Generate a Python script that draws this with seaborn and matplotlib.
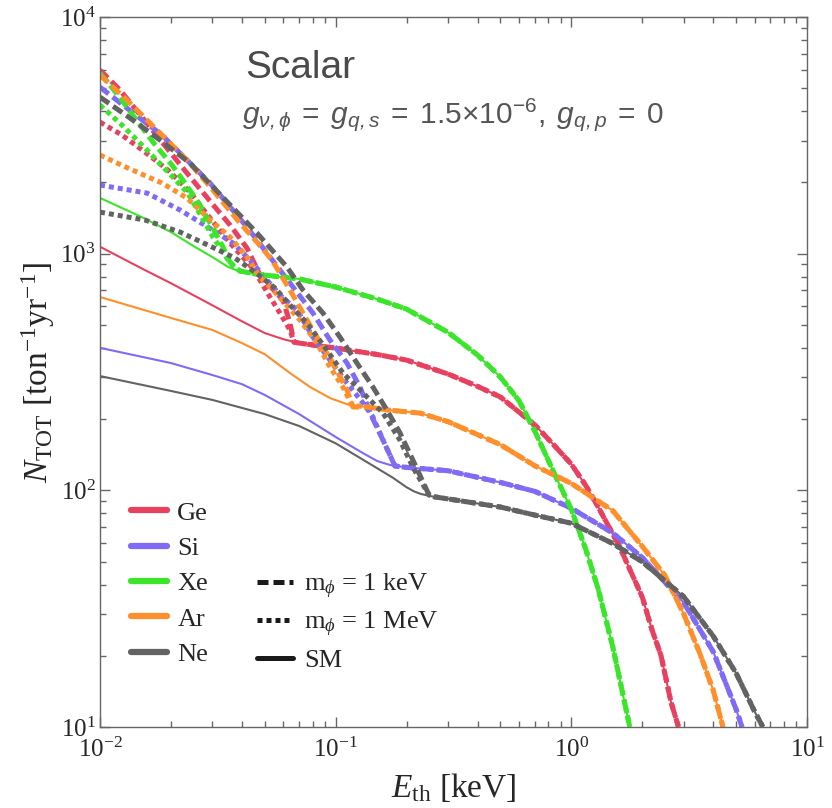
import numpy as np
import pandas as pd
import seaborn as sns
import matplotlib.pyplot as plt
from matplotlib.lines import Line2D
from matplotlib.ticker import LogLocator, NullFormatter

# SM curves (thin solid)
ge_sm_E = [0.01, 0.015, 0.02, 0.03, 0.04, 0.05, 0.06, 0.07, 0.085, 0.1, 0.15, 0.2, 0.3, 0.4, 0.5, 0.7, 0.85, 1.0, 1.15, 1.3, 1.6, 2.0, 2.2, 2.4, 2.65, 2.85]
ge_sm_N = [1070, 867, 750, 605, 518, 462, 435, 419, 408, 399, 375, 355, 310, 275, 248, 189, 154, 129, 105, 85, 58, 35.4, 25.7, 20.1, 12.7, 10]
si_sm_E = [0.01, 0.02, 0.03, 0.04, 0.05, 0.07, 0.1, 0.13, 0.15, 0.17, 0.2, 0.3, 0.5, 0.7, 1.0, 1.5, 2.0, 3.0, 4.0, 5.0, 5.3]
si_sm_N = [400, 345, 307, 281, 253, 210, 168, 144, 133, 128, 125, 121, 108, 99, 84, 66, 52, 33.5, 20.8, 11.9, 10]
xe_sm_E = [0.01, 0.015, 0.02, 0.025, 0.03, 0.035, 0.0375, 0.04, 0.045, 0.05, 0.07, 0.1, 0.15, 0.2, 0.3, 0.4, 0.5, 0.6, 0.7, 0.85, 1.0, 1.15, 1.3, 1.5, 1.77]
xe_sm_N = [1720, 1429, 1234, 1075, 967, 878, 855, 840, 824, 812, 782, 723, 643, 583, 465, 373, 301, 239, 178, 117, 83, 56.5, 38.3, 21.8, 10]
ar_sm_E = [0.01, 0.02, 0.03, 0.04, 0.05, 0.064, 0.078, 0.095, 0.115, 0.136, 0.17, 0.228, 0.3, 0.5, 0.7, 1.0, 1.5, 2.0, 2.5, 3.0, 3.5, 4.0, 4.4]
ar_sm_N = [656, 535, 476, 419, 376, 313, 273, 245, 229, 225, 218, 212, 195, 156, 127, 107, 82, 58, 43.5, 30, 20.6, 14.3, 10]
ne_sm_E = [0.01, 0.02, 0.03, 0.04, 0.05, 0.07, 0.1, 0.15, 0.175, 0.2, 0.215, 0.23, 0.26, 0.3, 0.5, 0.7, 1.0, 1.5, 2.0, 3.0, 4.0, 5.0, 6.0, 6.5]
ne_sm_N = [304, 263, 241, 223, 210, 187, 158, 124, 113, 103, 99, 96.5, 94, 92, 85, 78.6, 72.6, 59.6, 49.9, 35.5, 24.2, 16.9, 11.6, 10]

# m_phi = 1 keV (dashed), low-energy part until it joins SM
ge_1kev_E = [0.01, 0.01216, 0.0163, 0.02339, 0.02929, 0.03563, 0.04205, 0.04773, 0.05975, 0.06399, 0.06656]
ge_1kev_N = [5967, 4912, 3427, 2190, 1668, 1321, 1056, 812, 637, 509, 423]
si_1kev_E = [0.01, 0.01367, 0.01832, 0.02929, 0.04205, 0.0511, 0.06399, 0.0801, 0.09458, 0.1117, 0.1268, 0.1426, 0.1588, 0.1785]
si_1kev_N = [5055, 3965, 3170, 1988, 1295, 1006, 751, 561, 431.5, 345, 273, 204, 163, 126.7]
xe_1kev_E = [0.01, 0.01192, 0.01408, 0.01678, 0.02021, 0.02294, 0.02657, 0.03015, 0.03326, 0.03563, 0.03926]
xe_1kev_N = [5794, 4677, 3741, 2962, 2367, 1988, 1605, 1283, 1066, 921, 844]
ar_1kev_E = [0.01, 0.01277, 0.01552, 0.01887, 0.02294, 0.02844, 0.03926, 0.04637, 0.05366, 0.06399, 0.07266, 0.0833, 0.09739, 0.1117, 0.1184]
ar_1kev_N = [5682, 4543, 3741, 3080, 2535, 1988, 1347, 1119, 940, 702, 561, 444, 345, 265, 225]
ne_1kev_E = [0.01, 0.01341, 0.01797, 0.02409, 0.03135, 0.03814, 0.04637, 0.06213, 0.07266, 0.08836, 0.1043, 0.1231, 0.144, 0.1651, 0.1874, 0.2128, 0.249]
ne_1kev_N = [4587, 3741, 3020, 2414, 1838, 1498, 1222, 878, 702, 561, 444, 345, 273, 218, 175, 134, 95.5]

# m_phi = 1 MeV (dotted)
ge_1mev_E = [0.01, 0.0124, 0.01552, 0.01943, 0.02409, 0.02929, 0.03563, 0.04329, 0.04773, 0.05262, 0.05802, 0.06399, 0.06656]
ge_1mev_N = [3597, 3170, 2687, 2255, 1821, 1414, 1109, 895, 773, 656, 561, 476, 423]
si_1mev_E = [0.01, 0.01583, 0.02185, 0.02872, 0.03667, 0.04415, 0.0511, 0.05917, 0.06855, 0.0801, 0.09458, 0.1117, 0.1306, 0.144, 0.1588, 0.1785]
si_1mev_N = [1949, 1803, 1529, 1295, 1109, 921, 773, 656, 578, 444, 355, 284, 234, 204, 163, 126.7]
xe_1mev_E = [0.01, 0.0124, 0.01552, 0.01943, 0.02339, 0.02657, 0.03015, 0.03294, 0.03563, 0.03926]
xe_1mev_N = [4245, 3494, 2794, 2212, 1821, 1470, 1175, 1035, 912, 844]
ar_1mev_E = [0.01, 0.01315, 0.01832, 0.02339, 0.02844, 0.03563, 0.04205, 0.04773, 0.0542, 0.07056, 0.0833, 0.09458, 0.1074, 0.1173]
ar_1mev_N = [2610, 2299, 1988, 1718, 1428, 1175, 967, 796, 702, 524, 419, 332, 273, 229]
ne_1mev_E = [0.01, 0.01552, 0.02185, 0.02929, 0.0374, 0.04547, 0.05526, 0.06399, 0.07553, 0.09186, 0.1074, 0.1306, 0.1588, 0.1874, 0.2128, 0.249]
ne_1mev_N = [1498, 1387, 1234, 1077, 958, 836, 716, 607, 509, 391, 313, 258, 212, 163, 125, 95.5]

elements = ['Ge', 'Si', 'Xe', 'Ar', 'Ne']
colors = {'Ge': '#E8405F', 'Si': '#7F6BF5', 'Xe': '#3AE52A', 'Ar': '#FF8F2A', 'Ne': '#636363'}
sm = {'Ge': (ge_sm_E, ge_sm_N), 'Si': (si_sm_E, si_sm_N), 'Xe': (xe_sm_E, xe_sm_N),
      'Ar': (ar_sm_E, ar_sm_N), 'Ne': (ne_sm_E, ne_sm_N)}
kev = {'Ge': (ge_1kev_E, ge_1kev_N), 'Si': (si_1kev_E, si_1kev_N), 'Xe': (xe_1kev_E, xe_1kev_N),
       'Ar': (ar_1kev_E, ar_1kev_N), 'Ne': (ne_1kev_E, ne_1kev_N)}
mev = {'Ge': (ge_1mev_E, ge_1mev_N), 'Si': (si_1mev_E, si_1mev_N), 'Xe': (xe_1mev_E, xe_1mev_N),
       'Ar': (ar_1mev_E, ar_1mev_N), 'Ne': (ne_1mev_E, ne_1mev_N)}


def join_sm(low, ref):
    # above the knee the BSM curves lie on top of the SM curve
    e, n = list(low[0]), list(low[1])
    for ee, nn in zip(*ref):
        if ee > e[-1] * 1.02:
            e.append(ee)
            n.append(nn)
    return e, n


sns.set_style("ticks")
plt.rcParams['font.family'] = ['Liberation Serif', 'DejaVu Serif']
plt.rcParams['mathtext.fontset'] = 'custom'
plt.rcParams['mathtext.rm'] = 'Liberation Serif'
plt.rcParams['mathtext.it'] = 'Liberation Serif:italic'
plt.rcParams['mathtext.bf'] = 'Liberation Sans:italic'
plt.rcParams['mathtext.sf'] = 'Liberation Sans'

fig = plt.figure(figsize=(8.32, 8.08), dpi=100)
ax = fig.add_axes([100 / 832, 81 / 808, 707 / 832, 710 / 808])
ax.set_xscale('log')
ax.set_yscale('log')

dash_keV = (0, (2.2, 1.0))
dash_MeV = (0, (1.0, 0.8))

for el in elements:
    c = colors[el]
    e, n = sm[el]
    sns.lineplot(x=e, y=n, color=c, lw=1.5, ax=ax, sort=False, estimator=None)
for el in elements:
    c = colors[el]
    e, n = join_sm(mev[el], sm[el])
    sns.lineplot(x=e, y=n, color=c, lw=3.6, ax=ax, sort=False, estimator=None,
                 linestyle=dash_MeV, dash_capstyle='butt')
    e, n = join_sm(kev[el], sm[el])
    sns.lineplot(x=e, y=n, color=c, lw=3.6, ax=ax, sort=False, estimator=None,
                 linestyle=dash_keV, dash_capstyle='butt')

ax.set_xlim(1e-2, 1e1)
ax.set_ylim(1e1, 1e4)
ax.set_xticks([1e-2, 1e-1, 1e0, 1e1])
ax.set_xticklabels([r'$10^{-2}$', r'$10^{-1}$', r'$10^{0}$', r'$10^{1}$'])
ax.set_yticks([1e1, 1e2, 1e3, 1e4])
ax.set_yticklabels([r'$10^{1}$', r'$10^{2}$', r'$10^{3}$', r'$10^{4}$'])
for a in (ax.xaxis, ax.yaxis):
    a.set_minor_locator(LogLocator(base=10, subs=np.arange(2, 10)))
    a.set_minor_formatter(NullFormatter())
ax.tick_params(which='both', direction='in', top=True, right=True, color='#666666',
               labelsize=18, width=1.0)
ax.tick_params(which='major', length=7)
ax.tick_params(which='minor', length=4)
ax.tick_params(axis='x', pad=8)
ax.tick_params(axis='y', pad=3)
for s in ax.spines.values():
    s.set_color('#666666')
    s.set_linewidth(1.0)

ax.set_xlabel(r'$E_{\rm th}$ [keV]', fontsize=24, labelpad=6)
ax.set_ylabel(r'$N_{\rm TOT}$ [ton$^{-1}$yr$^{-1}$]', fontsize=24, labelpad=2)

ax.text(0.283, 0.928, 'Scalar', transform=ax.transAxes, ha='center', va='center',
        fontsize=28, color='#4a4a4a', family=['Liberation Sans', 'DejaVu Sans'])
ax.text(0.50, 0.862,
        r'$\mathbf{g}_{\mathbf{\nu,\phi}}\ \mathsf{=}\ \mathbf{g}_{\mathbf{q,s}}\ \mathsf{=\ 1.5{\times}10^{-6},}\ \mathbf{g}_{\mathbf{q,p}}\ \mathsf{=\ 0}$',
        transform=ax.transAxes, ha='center', va='center', fontsize=21.5, color='#555555')

h1 = [Line2D([], [], color=colors[el], lw=4.5) for el in elements]
leg1 = ax.legend(h1, elements, loc='upper left', bbox_to_anchor=(0.044, 0.318), frameon=False,
                 fontsize=19, handlelength=1.35, handletextpad=0.4, labelspacing=0.45,
                 borderaxespad=0, borderpad=0)
ax.add_artist(leg1)
h2 = [Line2D([], [], color='#1a1a1a', lw=3.6, linestyle=dash_keV, dash_capstyle='butt'),
      Line2D([], [], color='#1a1a1a', lw=3.6, linestyle=dash_MeV, dash_capstyle='butt'),
      Line2D([], [], color='#1a1a1a', lw=3.6)]
labels2 = [r'm$_{\phi}$ = 1 keV', r'm$_{\phi}$ = 1 MeV', 'SM']
ax.legend(h2, labels2, loc='upper left', bbox_to_anchor=(0.222, 0.219), frameon=False,
          fontsize=19, handlelength=1.35, handletextpad=0.45, labelspacing=0.36,
          borderaxespad=0, borderpad=0)

fig.savefig('out.png', dpi=100)
